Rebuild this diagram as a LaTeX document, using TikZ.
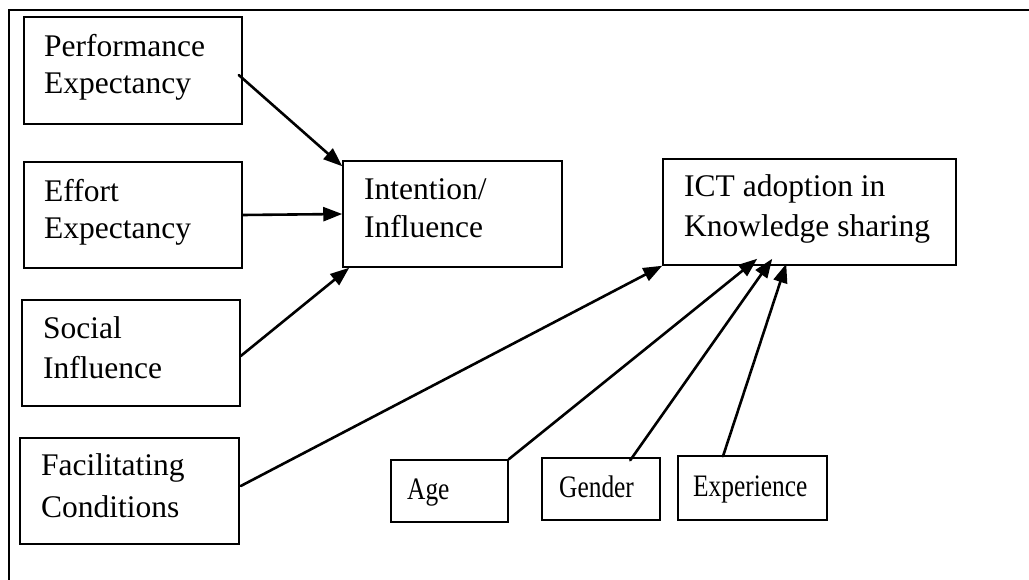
\documentclass[tikz,border=0pt]{standalone}
\usepackage{fontspec}
\setmainfont{Liberation Serif}
\usetikzlibrary{arrows.meta,calc}
% moderator labels are set smaller and stretched upright
\newcommand{\tallword}[1]{\scalebox{1}[1.23]{#1}}
\begin{document}
\begin{tikzpicture}[x=1pt,y=-1pt,
  box/.style={draw=black, line width=1.5pt, inner sep=0pt, anchor=center},
  lbl/.style={anchor=base west, inner sep=0pt, font=\fontsize{31.5}{38}\selectfont},
  modlbl/.style={anchor=base west, inner sep=0pt, font=\fontsize{25.4}{30}\selectfont},
  link/.style={line width=2.6pt, line cap=round, -{Triangle[length=19pt,width=14pt]}}]
\useasboundingbox (0,0) rectangle (1029,580);
% outer frame (left and top edges)
\draw[line width=2pt] (9,580) -- (9,10) -- (1029,10);

% construct boxes
\node[box, minimum width=218pt, minimum height=107pt] (pe) at (133,70.5) {};
\node[box, minimum width=218pt, minimum height=106pt] (ee) at (133,215) {};
\node[box, minimum width=218pt, minimum height=106pt] (si) at (131,353) {};
\node[box, minimum width=219pt, minimum height=106pt] (fc) at (129.5,491) {};
\node[box, minimum width=219pt, minimum height=106pt] (ii) at (452.5,214) {};
\node[box, minimum width=293pt, minimum height=106pt] (ict) at (809.5,212) {};
% moderators
\node[box, minimum width=117pt, minimum height=62pt] (age) at (449.5,491) {};
\node[box, minimum width=118pt, minimum height=62pt] (gen) at (601,489) {};
\node[box, minimum width=149pt, minimum height=64pt] (exp) at (752.5,488) {};

% labels
\node[lbl] (pe1) at (44,57) {Performance};
\node[lbl] (pe2) at (44,94) {Expectancy};
\node[lbl] (ee1) at (44,202) {Effort};
\node[lbl] (ee2) at (44,239) {Expectancy};
\node[lbl] (si1) at (43,338) {Social};
\node[lbl] (si2) at (43,378) {Influence};
\node[lbl] (fc1) at (41,475) {Facilitating};
\node[lbl] (fc2) at (41,517) {Conditions};
\node[lbl] (ii1) at (364,200) {Intention/};
\node[lbl] (ii2) at (364,238) {Influence};
\node[lbl] (ict1) at (684,197) {ICT adoption in};
\node[lbl] (ict2) at (684,237) {Knowledge sharing};
\node[modlbl] (age1) at (407,499) {\tallword{Age}};
\node[modlbl] (gen1) at (559,497) {\tallword{Gender}};
\node[modlbl] (exp1) at (693,496) {\tallword{Experience}};

% paths into Intention/Influence
\draw[link] ($(pe.east)+(-4,4.5)$) -- ($(ii.north west)+(0,6)$);
\draw[link] (ee.east) -- (ii.west);
\draw[link] ($(si.east)+(0,3)$) -- ($(ii.south west)+(7,0)$);
% paths into ICT adoption
\draw[link] ($(fc.east)+(1,-5)$) -- (ict.south west);
\draw[link] (age.north east) -- ($(ict.south west)+(95,-7)$);
\draw[link] ($(gen.north west)+(89,3)$) -- ($(ict.south west)+(110,-7)$);
\draw[link] ($(exp.north)+(-29.5,1)$) -- ($(ict.south west)+(124,-2)$);
\end{tikzpicture}
\end{document}
